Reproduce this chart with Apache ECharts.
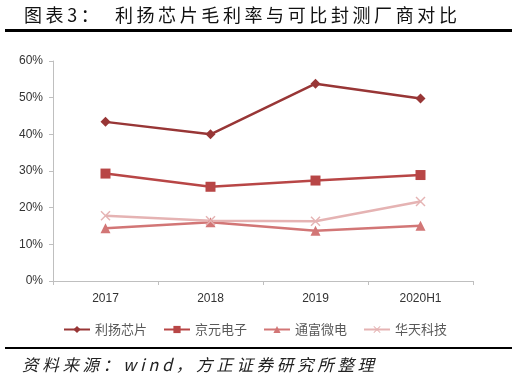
<!DOCTYPE html>
<html>
<head>
<meta charset="utf-8">
<script src="https://cdn.jsdelivr.net/npm/echarts@6/dist/echarts.min.js"></script>
<style>
    html, body { margin: 0; padding: 0; background: #fff; }
    #chart { width: 528px; height: 381px; }
</style>
</head>
<body>
<div id="chart"></div>
<script>
// 年份
var years = ['2017', '2018', '2019', '2020H1'];
// 毛利率（%）
var liyang = [43.4, 40.0, 53.8, 49.8];   // 利扬芯片
var jingyuan = [29.3, 25.7, 27.4, 28.9]; // 京元电子
var tongfu = [14.4, 16.0, 13.7, 15.1];   // 通富微电
var huatian = [17.8, 16.4, 16.3, 21.7];  // 华天科技
var yTicks = [0, 10, 20, 30, 40, 50, 60];

var cjk = '"Noto Sans CJK SC", sans-serif';
// 字间距：用细空格拉开
function spread(s, sp) {
    return s.split('').join(sp);
}
var xMark = 'path://M0,1L1,0L5,4L9,0L10,1L6,5L10,9L9,10L5,6L1,10L0,9L4,5Z';

function line(name, data, color, symbol, size) {
    return {
        name: name,
        type: 'line',
        data: data,
        symbol: symbol,
        symbolSize: size,
        lineStyle: { color: color, width: 2.5 },
        itemStyle: { color: color },
        animation: false
    };
}

var myChart = echarts.init(document.getElementById('chart'));
var option = {
    backgroundColor: '#fff',
    title: {
        text: spread('图表3：', '\u2009') + '    ' + spread('利扬芯片毛利率与可比封测厂商对比', '\u2009'),
        left: 19,
        top: 1,
        textStyle: { fontFamily: cjk, fontSize: 18, fontWeight: 'normal', color: '#111' }
    },
    graphic: [
        // 标题下方粗线
        { type: 'rect', shape: { x: 5, y: 29, width: 507, height: 3 }, style: { fill: '#000' } },
        // 底部细线
        { type: 'rect', shape: { x: 5, y: 347, width: 507, height: 2 }, style: { fill: '#000' } },
        {
            type: 'text', left: 22, top: 356,
            style: { text: spread('资料来源：wind，方正证券研究所整理', ' '), font: 'italic 16.5px ' + cjk, fill: '#222' }
        }
    ],
    legend: {
        top: 318,
        left: 58,
        itemWidth: 26,
        itemHeight: 9,
        itemGap: 16,
        textStyle: { fontFamily: cjk, fontSize: 13, color: '#595959' },
        data: ['利扬芯片', '京元电子', '通富微电', '华天科技']
    },
    grid: { left: 53, right: 55, top: 61, bottom: 100 },
    xAxis: {
        type: 'category',
        data: years,
        boundaryGap: true,
        axisLine: { lineStyle: { color: '#bfbfbf' } },
        axisTick: { show: true, length: 4, lineStyle: { color: '#bfbfbf' } },
        axisLabel: { color: '#333', fontSize: 12, margin: 12, fontFamily: 'Liberation Sans' }
    },
    yAxis: {
        type: 'value',
        min: yTicks[0],
        max: yTicks[yTicks.length - 1],
        interval: 10,
        axisLine: { show: true, lineStyle: { color: '#bfbfbf' } },
        axisTick: { show: true, length: 4, lineStyle: { color: '#bfbfbf' } },
        splitLine: { show: false },
        axisLabel: { formatter: '{value}%', color: '#333', fontSize: 12, margin: 10, fontFamily: 'Liberation Sans' }
    },
    series: [
        line('利扬芯片', liyang, '#983636', 'diamond', 10),
        line('京元电子', jingyuan, '#b84646', 'rect', 10),
        line('通富微电', tongfu, '#d27676', 'triangle', 10),
        line('华天科技', huatian, '#e5b3b3', xMark, 10)
    ]
};
myChart.setOption(option);
</script>
</body>
</html>
